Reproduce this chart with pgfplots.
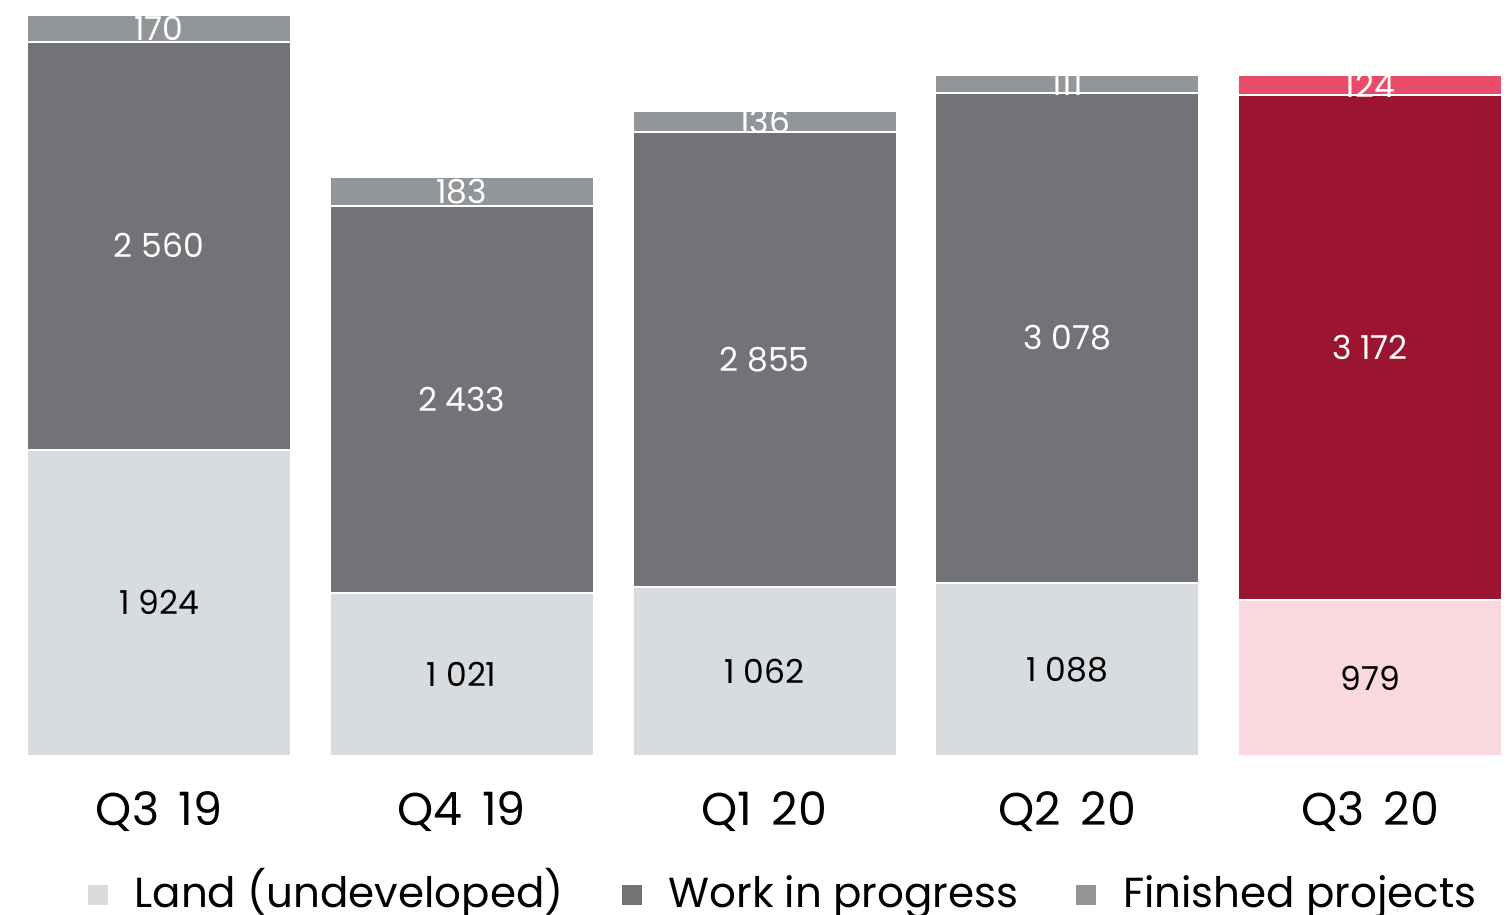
\documentclass[border=0pt]{standalone}
\usepackage{fontspec}
\setmainfont{Poppins}
\usepackage{pgfplots}
\usepackage{pgfplotstable}
\pgfplotsset{compat=1.18}
\definecolor{landgrey}{HTML}{D9DCDF}
\definecolor{wipgrey}{HTML}{727377}
\definecolor{fingrey}{HTML}{939698}
\definecolor{landpink}{HTML}{F9D9DF}
\definecolor{wipred}{HTML}{9B1430}
\definecolor{finred}{HTML}{E84C6A}

% segment values
\pgfplotstableread[col sep=comma]{
x,y
0,1924
1,1021
2,1062
3,1088
}\landtab
\pgfplotstableread[col sep=comma]{
x,y
0,2560
1,2433
2,2855
3,3078
}\wiptab
\pgfplotstableread[col sep=comma]{
x,y
0,170
1,183
2,136
3,111
}\fintab
\pgfplotstableread[col sep=comma]{
x,y
4,979
}\landredtab
\pgfplotstableread[col sep=comma]{
x,y
4,3172
}\wipredtab
\pgfplotstableread[col sep=comma]{
x,y
4,124
}\finredtab
% label positions (middle of each segment) and texts
\pgfplotstableread[col sep=comma]{
x,ym,label
0,962,1 924
1,510.5,1 021
2,531,1 062
3,544,1 088
4,489.5,979
}\blacklabels
\pgfplotstableread[col sep=comma]{
x,ym,label
0,3204,2 560
1,2237.5,2 433
2,2489.5,2 855
3,2627,3 078
4,2565,3 172
0,4569,170
1,3545.5,183
2,3985,136
3,4221.5,111
4,4213,124
}\whitelabels

\pgfplotsset{
  geom/.style={
    scale only axis, width=736pt, height=370.5pt,
    xmin=-0.4327, xmax=4.4294, ymin=0, ymax=4654,
    at={(14pt,79.5pt)}, anchor=south west,
    clip=false,
  },
  barbase/.style={geom,
    ybar stacked, bar width=132pt,
    every axis plot/.append style={draw=white, line width=1pt},
  },
}

\begin{document}
\begin{tikzpicture}
\useasboundingbox (0,0) rectangle (755pt,457.5pt);
\begin{axis}[barbase,
  axis line style={draw=none}, tick style={draw=none},
  ytick=\empty,
  xtick={0,1,2,3,4},
  xticklabels={Q3\hspace{0.42em}19,Q4\hspace{0.42em}19,Q1\hspace{0.42em}20,Q2\hspace{0.42em}20,Q3\hspace{0.42em}20},
  xticklabel style={anchor=center, yshift=-28pt, font=\fontsize{23}{27}\selectfont},
  legend columns=3,
  legend image code/.code={\path[#1,draw=none] (0pt,-1.5pt) rectangle (10pt,8.5pt);},
  legend style={draw=none, fill=none, at={(0.5,0)}, anchor=center,
    yshift=-72pt, xshift=10pt,
    font=\fontsize{21}{25}\selectfont,
    /tikz/every even column/.append style={column sep=27pt, text height=0.72em, text depth=0.22em},
    /tikz/every odd column/.append style={column sep=11.5pt}},
]
\addplot[fill=landgrey] table[x=x,y=y] {\landtab};
\addplot[fill=wipgrey] table[x=x,y=y] {\wiptab};
\addplot[fill=fingrey] table[x=x,y=y] {\fintab};
\legend{Land (undeveloped),Work in progress,Finished projects}
\end{axis}
\begin{axis}[barbase, hide axis]
\addplot[fill=landpink] table[x=x,y=y] {\landredtab};
\addplot[fill=wipred] table[x=x,y=y] {\wipredtab};
\addplot[fill=finred] table[x=x,y=y] {\finredtab};
\end{axis}
\begin{axis}[geom, hide axis]
\addplot[draw=none, mark=none, nodes near coords, point meta=explicit symbolic,
  every node near coord/.append style={anchor=center, text=black, inner sep=0pt,
    font=\fontsize{16.5}{20}\selectfont}]
  table[x=x,y=ym,meta=label] {\blacklabels};
\addplot[draw=none, mark=none, nodes near coords, point meta=explicit symbolic,
  every node near coord/.append style={anchor=center, text=white, inner sep=0pt,
    font=\fontsize{16.5}{20}\selectfont}]
  table[x=x,y=ym,meta=label] {\whitelabels};
\end{axis}
\end{tikzpicture}
\end{document}
